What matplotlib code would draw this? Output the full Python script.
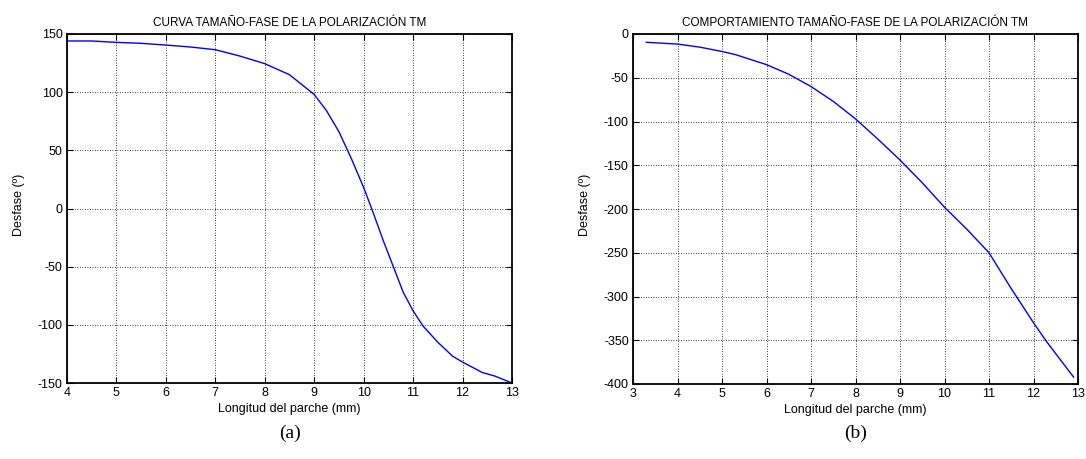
import matplotlib
matplotlib.use("Agg")
import matplotlib.pyplot as plt

# Panel (a): CURVA TAMAÑO-FASE
len_a = [4.0, 4.5, 5.0, 5.5, 6.0, 6.5, 7.0, 7.5, 8.0, 8.5, 9.0, 9.25, 9.5, 9.75,
         10.0, 10.17, 10.4, 10.6, 10.8, 11.0, 11.2, 11.5, 11.8, 12.0, 12.4, 12.65, 13.0]
phase_a = [144, 144, 142.8, 142, 140.5, 138.8, 136.5, 131, 124.5, 115, 98, 84, 66, 43,
           18, -1, -28, -50, -72, -88, -101, -115, -127, -132, -141, -144, -150]

# Panel (b): COMPORTAMIENTO TAMAÑO-FASE
len_b = [3.3, 4.0, 4.5, 5.0, 5.3, 6.0, 6.5, 7.0, 7.5, 8.0, 8.5, 9.0, 9.5, 10.0,
         10.5, 11.0, 11.5, 12.0, 12.3, 12.9]
phase_b = [-9.5, -11.5, -15, -20, -23.5, -35, -46, -60, -77, -97, -120, -144, -170, -198,
           -223, -250, -291, -330, -352, -392]

title_a = "CURVA TAMAÑO-FASE DE LA POLARIZACIÓN TM"
title_b = "COMPORTAMIENTO TAMAÑO-FASE DE LA POLARIZACIÓN TM"
xlabel = "Longitud del parche (mm)"
ylabel = "Desfase (º)"
xticks_a = list(range(4, 14))
yticks_a = list(range(-150, 151, 50))
xticks_b = list(range(3, 14))
yticks_b = list(range(-400, 1, 50))

plt.rcParams['font.family'] = ['Liberation Sans', 'DejaVu Sans']
plt.rcParams['axes.unicode_minus'] = False

W, H = 1086, 459
fig = plt.figure(figsize=(W / 100, H / 100), dpi=100)

def px_axes(l, r, t, b):
    return fig.add_axes([l / W, (H - b) / H, (r - l) / W, (b - t) / H])

ax1 = px_axes(67, 512, 34, 383)
ax2 = px_axes(633, 1078, 34, 384)

def style(ax, x, y, title, xt, yt, xlim, ylim, ylabx):
    ax.plot(x, y, color='#0000ff', lw=1.0)
    ax.set_xlim(*xlim)
    ax.set_ylim(*ylim)
    ax.set_xticks(xt)
    ax.set_yticks(yt)
    ax.grid(True, color='black', linestyle=(0, (1, 2)), linewidth=0.6)
    for s in ax.spines.values():
        s.set_linewidth(1.3)
    ax.tick_params(direction='in', top=True, right=True, labelsize=9, length=4, width=0.8, pad=3)
    ax.set_title(title, fontsize=8.5, pad=6)
    ax.set_xlabel(xlabel, fontsize=9, labelpad=3)
    fig.text(ylabx / W, 1 - 205 / H, ylabel, rotation=90, fontsize=9,
             ha='center', va='center')

style(ax1, len_a, phase_a, title_a, xticks_a, yticks_a, (4, 13), (-150, 150), 19)
style(ax2, len_b, phase_b, title_b, xticks_b, yticks_b, (3, 13), (-400, 0), 585)

fig.text(290 / W, 1 - 433 / H, "(a)", fontsize=14, family='Liberation Serif', ha='center', va='center')
fig.text(856 / W, 1 - 433 / H, "(b)", fontsize=14, family='Liberation Serif', ha='center', va='center')

fig.savefig("out.png", dpi=100)
